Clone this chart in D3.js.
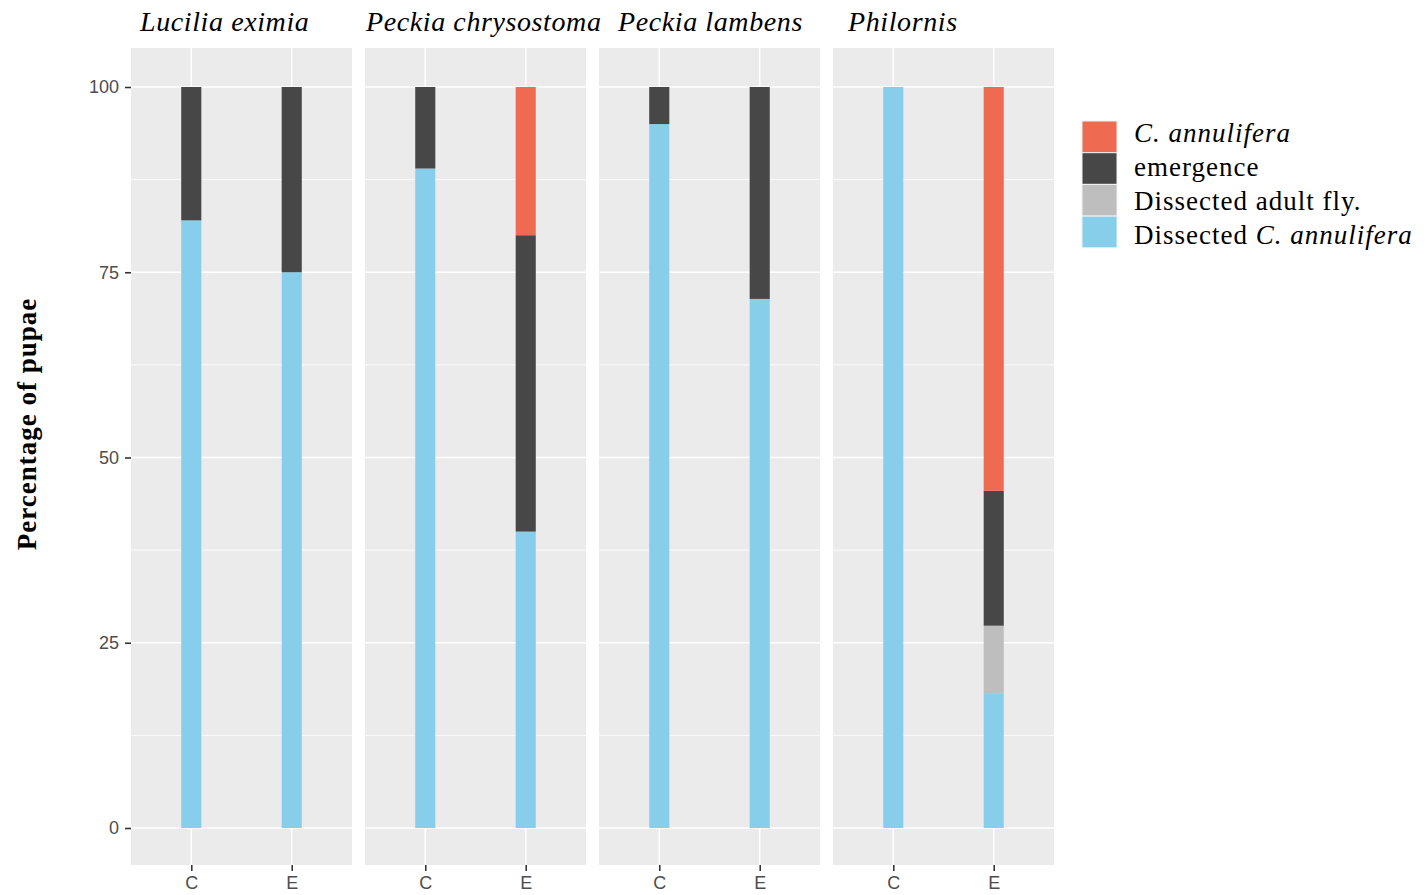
<!DOCTYPE html>
<html>
<head>
<meta charset="utf-8">
<script src="https://cdn.jsdelivr.net/npm/d3@7"></script>
<style>
  html, body { margin: 0; padding: 0; background: #fff; }
  svg { display: block; }
</style>
</head>
<body>
<svg id="chart" width="1425" height="895"></svg>
<script>
// Species panels and treatments within each panel
const species = ["Lucilia eximia", "Peckia chrysostoma", "Peckia lambens", "Philornis"];
const treatments = ["C", "E"];

// Percentage of pupae per outcome, one value per species × treatment (C, E)
const dissectedCann = [82, 75, 89, 40, 95, 71.4, 100, 18.2];
const dissectedFly  = [0, 0, 0, 0, 0, 0, 0, 9.1];
const emergence     = [18, 25, 11, 40, 5, 28.6, 0, 18.2];
const cAnnulifera   = [0, 0, 0, 20, 0, 0, 0, 54.5];

const yTicks = [0, 25, 50, 75, 100];
const yMinor = [12.5, 37.5, 62.5, 87.5];

// Stack order, bottom to top
const seriesKeys = ["dissectedCann", "dissectedFly", "emergence", "cAnnulifera"];
const seriesValues = { dissectedCann, dissectedFly, emergence, cAnnulifera };
const seriesColors = {
  cAnnulifera: "#EE6A50",
  emergence: "#474747",
  dissectedFly: "#BEBEBE",
  dissectedCann: "#87CEEB"
};

const rows = [];
species.forEach((sp, i) => {
  treatments.forEach((t, j) => {
    const k = i * treatments.length + j;
    const row = { species: sp, treatment: t };
    seriesKeys.forEach(s => { row[s] = seriesValues[s][k]; });
    rows.push(row);
  });
});
const stacked = d3.stack().keys(seriesKeys)(rows);

const svg = d3.select("#chart");
const serif = "'Liberation Serif', 'Times New Roman', serif";
const sans = "'Liberation Sans', Arial, sans-serif";

const panelTop = 48, panelBottom = 865;
const panelLefts = [131, 365, 599, 833];
const panelWidth = 221;

const y = d3.scaleLinear().domain([0, 100]).range([828, 87]);

const stripX = [140, 366, 618, 848];

species.forEach((sp, i) => {
  const left = panelLefts[i];
  const x = d3.scalePoint().domain(treatments).range([left, left + panelWidth]).padding(0.6);
  const g = svg.append("g");

  g.append("rect")
    .attr("x", left).attr("y", panelTop)
    .attr("width", panelWidth).attr("height", panelBottom - panelTop)
    .attr("fill", "#EBEBEB");

  // minor grid
  g.selectAll(".minor").data(yMinor).join("line")
    .attr("x1", left).attr("x2", left + panelWidth)
    .attr("y1", d => y(d)).attr("y2", d => y(d))
    .attr("stroke", "#fff").attr("stroke-width", 0.8);

  // major grid
  g.selectAll(".major").data(yTicks).join("line")
    .attr("x1", left).attr("x2", left + panelWidth)
    .attr("y1", d => y(d)).attr("y2", d => y(d))
    .attr("stroke", "#fff").attr("stroke-width", 1.6);

  g.selectAll(".vgrid").data(treatments).join("line")
    .attr("x1", d => x(d)).attr("x2", d => x(d))
    .attr("y1", panelTop).attr("y2", panelBottom)
    .attr("stroke", "#fff").attr("stroke-width", 1.6);

  // stacked bars
  const barW = 0.2 * x.step();
  stacked.forEach(layer => {
    g.selectAll(null)
      .data(layer.filter(d => d.data.species === sp && d[1] - d[0] > 0))
      .join("rect")
      .attr("x", d => x(d.data.treatment) - barW / 2)
      .attr("width", barW)
      .attr("y", d => y(d[1]))
      .attr("height", d => y(d[0]) - y(d[1]))
      .attr("fill", seriesColors[layer.key]);
  });

  // x axis
  const xAxis = d3.axisBottom(x).tickSize(6).tickPadding(5);
  const ax = g.append("g").attr("transform", `translate(0,${panelBottom})`).call(xAxis);
  ax.select(".domain").remove();
  ax.selectAll("line").attr("stroke", "#333").attr("stroke-width", 1.6);
  ax.selectAll("text")
    .attr("fill", "#4D4D4D")
    .style("font-family", sans)
    .style("font-size", "18px");

  // strip label
  svg.append("text")
    .attr("x", stripX[i]).attr("y", 31)
    .style("font-family", serif)
    .style("font-style", "italic")
    .style("font-size", "28px")
    .style("letter-spacing", "0.6px")
    .attr("fill", "#000")
    .text(sp);
});

// y axis
const yAxis = d3.axisLeft(y).tickValues(yTicks).tickSize(6).tickPadding(6);
const ay = svg.append("g").attr("transform", "translate(131,0)").call(yAxis);
ay.select(".domain").remove();
ay.selectAll("line").attr("stroke", "#333").attr("stroke-width", 1.6);
ay.selectAll("text")
  .attr("fill", "#4D4D4D")
  .style("font-family", sans)
  .style("font-size", "18px");

// y axis title
svg.append("text")
  .attr("transform", "translate(36,424) rotate(-90)")
  .attr("text-anchor", "middle")
  .style("font-family", serif)
  .style("font-weight", "bold")
  .style("font-size", "27px")
  .style("letter-spacing", "1px")
  .text("Percentage of pupae");

// legend
const legendItems = [
  { key: "cAnnulifera", parts: [["C. annulifera", true]] },
  { key: "emergence", parts: [["emergence", false]] },
  { key: "dissectedFly", parts: [["Dissected adult fly.", false]] },
  { key: "dissectedCann", parts: [["Dissected ", false], ["C. annulifera", true]] }
];
const lg = svg.append("g").attr("transform", "translate(1082,121)");
legendItems.forEach((item, i) => {
  lg.append("rect")
    .attr("x", 0).attr("y", i * 31.7).attr("width", 35).attr("height", 31.7)
    .attr("fill", seriesColors[item.key])
    .attr("stroke", "#F2F2F2").attr("stroke-width", 1);
  const t = lg.append("text")
    .attr("x", 52).attr("y", 20.7 + i * 34.2)
    .style("font-family", serif)
    .style("font-size", "27px")
    .style("letter-spacing", "1px");
  item.parts.forEach(([s, it]) => {
    t.append("tspan").style("font-style", it ? "italic" : "normal").text(s);
  });
});
</script>
</body>
</html>
